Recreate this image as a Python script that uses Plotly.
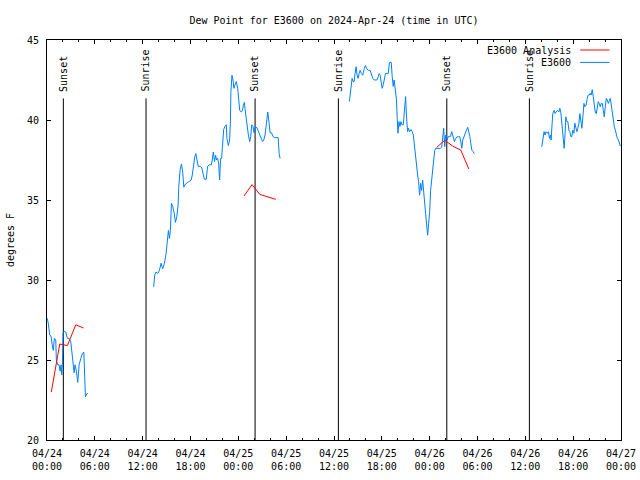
import pandas as pd
import plotly.graph_objects as go

BASE = pd.Timestamp("2024-04-24 00:00")

# ---- E3600 observations (hours since 2024-04-24 00:00 UTC, dew point F) ----
obs1_h = [0.04, 0.16, 0.34, 0.50, 0.67, 0.79, 0.92, 1.10, 1.17, 1.35, 1.51, 1.64, 1.76, 1.85,
          1.93, 2.01, 2.18, 2.35, 2.56, 2.77, 2.98, 3.11, 3.27, 3.40, 3.52, 3.69, 3.86, 4.03,
          4.24, 4.44, 4.62, 4.70, 4.82, 5.00, 5.12]
obs1_v = [27.6, 27.3, 26.56, 26.5, 25.9, 25.6, 26.35, 26.25, 25.0, 24.7, 24.7, 24.3, 24.7, 24.06,
          24.7, 26.7, 26.8, 26.75, 26.35, 26.35, 26.15, 25.5, 24.5, 24.2, 24.7, 24.3, 23.6, 24.7,
          25.1, 25.4, 25.5, 24.0, 22.7, 22.9, 22.9]

obs2_h = [13.38, 13.51, 13.68, 13.88, 14.10, 14.31, 14.51, 14.73, 14.94, 15.07,
          15.23, 15.36, 15.48, 15.61, 15.77, 15.95, 16.11, 16.28, 16.45, 16.53,
          16.70, 16.87, 17.03, 17.16, 17.37, 17.66, 18.09, 18.22, 18.38, 18.54,
          18.67, 18.79, 18.97, 19.26, 19.42, 19.55, 19.73, 19.98, 20.14, 20.39,
          20.61, 20.73, 20.86, 21.02, 21.15, 21.27, 21.40, 21.53, 21.65, 21.78,
          21.90, 21.99, 22.16, 22.32, 22.49, 22.57, 22.75, 22.91, 23.00, 23.07,
          23.20, 23.33, 23.45, 23.58, 23.75, 23.92, 24.04, 24.17, 24.38, 24.51,
          24.63, 24.76, 24.84, 25.01, 25.14, 25.26, 25.43, 25.55, 25.68, 25.84,
          25.97, 26.15, 26.35, 26.52, 26.69, 26.85, 27.03, 27.19, 27.35, 27.53,
          27.69, 27.86, 27.98, 28.16, 28.36, 28.57, 28.79, 28.99, 29.12, 29.24]
obs2_v = [29.58, 30.3, 30.5, 30.4, 30.6, 31.05, 30.7, 31.05, 31.67, 32.5,
          33.1, 32.6, 33.1, 34.8, 34.6, 34.2, 33.6, 33.95, 34.7, 35.8,
          36.9, 37.25, 36.7, 35.8, 36.0, 36.1, 36.25, 36.56, 37.3, 37.7,
          37.9, 37.5, 37.1, 37.1, 37.0, 36.7, 36.3, 36.3, 37.1, 37.2,
          37.2, 37.5, 38.0, 37.4, 37.8, 37.5, 37.6, 37.3, 36.25, 37.6,
          37.6, 38.2, 39.4, 39.6, 39.7, 38.85, 38.4, 38.75, 39.8, 41.77,
          42.8, 42.5, 41.98, 42.2, 42.4, 41.98, 41.35, 40.6, 40.5, 40.6,
          40.9, 41.1, 40.7, 39.9, 39.4, 39.06, 38.65, 38.96, 39.7, 39.6,
          39.2, 39.6, 39.5, 39.3, 39.06, 38.85, 38.65, 38.75, 39.06, 39.8,
          40.5, 39.8, 39.2, 39.2, 38.96, 38.9, 38.9, 38.9, 37.9, 37.6]

obs3_h = [37.93, 38.02, 38.14, 38.27, 38.39, 38.52, 38.64, 38.77, 38.90, 39.02,
          39.15, 39.27, 39.44, 39.61, 39.78, 39.94, 40.12, 40.32, 40.53, 40.70,
          40.87, 41.04, 41.38, 41.54, 41.67, 41.79, 41.92, 42.04, 42.17, 42.30,
          42.46, 42.64, 42.80, 42.96, 43.18, 43.30, 43.43, 43.55, 43.68, 43.77,
          43.84, 43.93, 44.02, 44.15, 44.27, 44.40, 44.52, 44.69, 44.81, 44.98,
          45.10, 45.23, 45.35, 45.48, 45.66, 45.82, 45.95, 46.07, 46.24, 46.36,
          46.49, 46.61, 46.74, 46.87, 46.99, 47.12, 47.24, 47.37, 47.49, 47.62,
          47.75, 47.87, 48.00, 48.12, 48.25, 48.38, 48.50, 48.63, 48.75, 49.34,
          49.51, 49.63, 49.76, 49.89, 50.01, 50.19, 50.31, 50.48, 50.60, 50.77,
          50.94, 51.11, 51.27, 51.45, 51.61, 51.78, 51.90, 52.03, 52.15, 52.28,
          52.46, 52.62, 52.78, 52.91, 53.04, 53.16, 53.29, 53.46, 53.59]
obs3_v = [41.15, 41.67, 42.2, 42.6, 42.4, 42.4, 42.9, 43.33, 42.8, 42.6,
          42.9, 43.1, 42.9, 42.8, 43.2, 43.4, 43.2, 43.1, 43.1, 42.8,
          42.6, 42.5, 42.5, 42.7, 42.9, 42.8, 42.4, 41.98, 42.2, 42.6,
          42.9, 42.9, 42.9, 43.6, 43.6, 42.7, 42.1, 42.5, 41.98, 41.77,
          41.25, 40.1, 39.17, 39.9, 39.6, 39.9, 39.7, 39.7, 40.73, 41.46,
          40.2, 39.27, 39.48, 39.27, 39.4, 39.27, 39.06, 38.44, 37.7, 37.2,
          36.56, 36.15, 35.3, 36.04, 35.6, 36.25, 35.4, 34.9, 34.17, 33.44,
          32.8, 33.54, 34.27, 35.6, 36.35, 37.08, 37.7, 38.1, 38.23, 38.23,
          38.3, 39.17, 39.48, 38.33, 39.06, 38.75, 38.96, 38.96, 38.96, 39.27,
          38.96, 38.65, 38.85, 38.96, 38.96, 38.96, 38.65, 38.23, 38.75, 38.96,
          39.17, 39.37, 39.54, 39.27, 38.96, 38.54, 38.12, 38.02, 37.9]

obs4_h = [62.06, 62.18, 62.35, 62.47, 62.60, 62.78, 62.90, 63.03, 63.16, 63.23,
          63.32, 63.44, 63.61, 63.73, 63.86, 64.04, 64.20, 64.33, 64.45, 64.58,
          64.70, 64.79, 64.87, 64.95, 65.08, 65.21, 65.33, 65.46, 65.58, 65.71,
          65.83, 65.96, 66.09, 66.21, 66.34, 66.46, 66.59, 66.72, 66.84, 66.97,
          67.09, 67.22, 67.35, 67.47, 67.63, 67.76, 67.89, 68.01, 68.14, 68.26,
          68.39, 68.52, 68.64, 68.77, 68.90, 69.02, 69.15, 69.27, 69.40, 69.52,
          69.65, 69.78, 69.90, 70.03, 70.15, 70.28, 70.41, 70.53, 70.66, 70.78,
          70.91, 71.04, 71.16, 71.29, 71.41, 71.54, 71.67, 71.79, 71.92]
obs4_v = [38.33, 38.65, 39.27, 39.06, 39.27, 39.17, 39.27, 38.85, 39.06, 38.75,
          39.8, 40.4, 40.6, 40.4, 40.5, 40.6, 40.5, 40.73, 40.5, 39.8,
          39.17, 38.54, 38.23, 38.85, 40.2, 39.9, 39.9, 39.37, 39.27, 38.96,
          38.96, 39.37, 39.17, 39.8, 39.48, 39.27, 39.48, 39.8, 40.4, 39.7,
          39.48, 40.2, 41.04, 40.83, 40.94, 41.35, 41.56, 41.56, 41.67, 41.56,
          41.9, 41.46, 40.73, 40.5, 40.4, 40.83, 41.15, 41.04, 40.83, 41.04,
          41.04, 40.6, 40.2, 40.83, 41.35, 41.25, 41.04, 41.2, 41.35, 40.94,
          40.4, 40.0, 39.58, 39.37, 39.06, 38.85, 38.75, 38.54, 38.37]

# ---- E3600 Analysis (hourly) ----
ana1_h = [0.54, 1.60, 2.56, 3.61, 4.57]
ana1_v = [23.0, 26.0, 25.9, 27.2, 27.0]
ana2_h = [24.71, 25.72, 26.69, 27.69, 28.70]
ana2_v = [35.25, 35.96, 35.35, 35.2, 35.04]
ana3_h = [48.88, 49.89, 50.89, 51.90, 52.91]
ana3_v = [38.29, 38.73, 38.37, 38.12, 36.94]

# ---- Sun events ----
sun_h = [2.05, 12.42, 26.1, 36.55, 50.15, 60.51]
sun_lbl = ["Sunset", "Sunrise", "Sunset", "Sunrise", "Sunset", "Sunrise"]
SUN_LINE_TOP = 41.35
SUN_LABEL_Y = 41.65

y_ticks = [20, 25, 30, 35, 40, 45]
x_tick_hours = list(range(0, 73, 6))
x_minor_hours = list(range(0, 73, 2))

TITLE = "Dew Point for E3600 on 2024-Apr-24 (time in UTC)"
FONT = "DejaVu Sans Mono"


def to_t(hours):
    return [BASE + pd.Timedelta(hours=h) for h in hours]


def join(segments):
    xs, ys = [], []
    for h, v in segments:
        xs += to_t(h) + [None]
        ys += list(v) + [None]
    return xs[:-1], ys[:-1]


fig = go.Figure()

# sun lines
sx, sy = [], []
for h in sun_h:
    t = BASE + pd.Timedelta(hours=h)
    sx += [t, t, None]
    sy += [20, SUN_LINE_TOP, None]
fig.add_trace(go.Scatter(x=sx, y=sy, mode="lines", line=dict(color="black", width=1),
                         hoverinfo="skip", showlegend=False))

bx, by = join([(obs1_h, obs1_v), (obs2_h, obs2_v), (obs3_h, obs3_v), (obs4_h, obs4_v)])
fig.add_trace(go.Scatter(x=bx, y=by, mode="lines", name="E3600",
                         line=dict(color="#0080ff", width=1), connectgaps=False,
                         showlegend=False))

rx, ry = join([(ana1_h, ana1_v), (ana2_h, ana2_v), (ana3_h, ana3_v)])
fig.add_trace(go.Scatter(x=rx, y=ry, mode="lines", name="E3600 Analysis",
                         line=dict(color="#ff0000", width=1), connectgaps=False,
                         showlegend=False))

for h, lbl in zip(sun_h, sun_lbl):
    fig.add_annotation(x=BASE + pd.Timedelta(hours=h), y=SUN_LABEL_Y, xref="x", yref="y",
                       text=lbl, textangle=-90, showarrow=False,
                       xanchor="center", yanchor="bottom",
                       font=dict(family=FONT, size=10, color="black"))

# legend (gnuplot style: text right-aligned, sample on the right)
legend_items = [("E3600 Analysis", "#ff0000", 0.975), ("E3600", "#0080ff", 0.944)]
for text, col, yy in legend_items:
    fig.add_annotation(x=0.917, y=yy, xref="paper", yref="paper", text=text,
                       showarrow=False, xanchor="right", yanchor="middle",
                       font=dict(family=FONT, size=10, color="black"))
    fig.add_shape(type="line", xref="paper", yref="paper", x0=0.929, x1=0.980,
                  y0=yy, y1=yy, line=dict(color=col, width=1))

tick_t = to_t(x_tick_hours)
tick_txt = [t.strftime("%m/%d") + "<br>" + t.strftime("%H:%M") for t in tick_t]

fig.update_layout(
    width=640, height=480,
    margin=dict(l=47, r=19, t=40, b=40, autoexpand=False),
    paper_bgcolor="white", plot_bgcolor="white",
    font=dict(family=FONT, size=10, color="black"),
    title=dict(text=TITLE, x=0.5, xanchor="center", y=1 - 20 / 480, yanchor="middle",
               xref="paper", yref="container", automargin=False,
               font=dict(family=FONT, size=10, color="black")),
    showlegend=False,
)
fig.update_xaxes(
    range=[BASE, BASE + pd.Timedelta(hours=72)],
    tickmode="array", tickvals=tick_t, ticktext=tick_txt,
    ticks="inside", ticklen=4, tickcolor="black", tickwidth=1,
    minor=dict(tickmode="array", tickvals=to_t(x_minor_hours), ticks="inside",
               ticklen=2, tickcolor="black", tickwidth=1, showgrid=False),
    showline=True, linecolor="black", linewidth=1, mirror="allticks",
    showgrid=False, zeroline=False, automargin=False, ticklabelstandoff=4,
)
fig.update_yaxes(
    range=[20, 45], tickmode="array", tickvals=y_ticks,
    ticks="inside", ticklen=4, tickcolor="black", tickwidth=1,
    showline=True, linecolor="black", linewidth=1, mirror="allticks",
    showgrid=False, zeroline=False, automargin=False, ticklabelstandoff=5,
    title=dict(text="degrees F", standoff=10, font=dict(family=FONT, size=10)),
)

fig.write_html("out.html", config={"displayModeBar": False},
               post_script="document.body.style.margin='0';document.body.style.overflow='hidden';")
